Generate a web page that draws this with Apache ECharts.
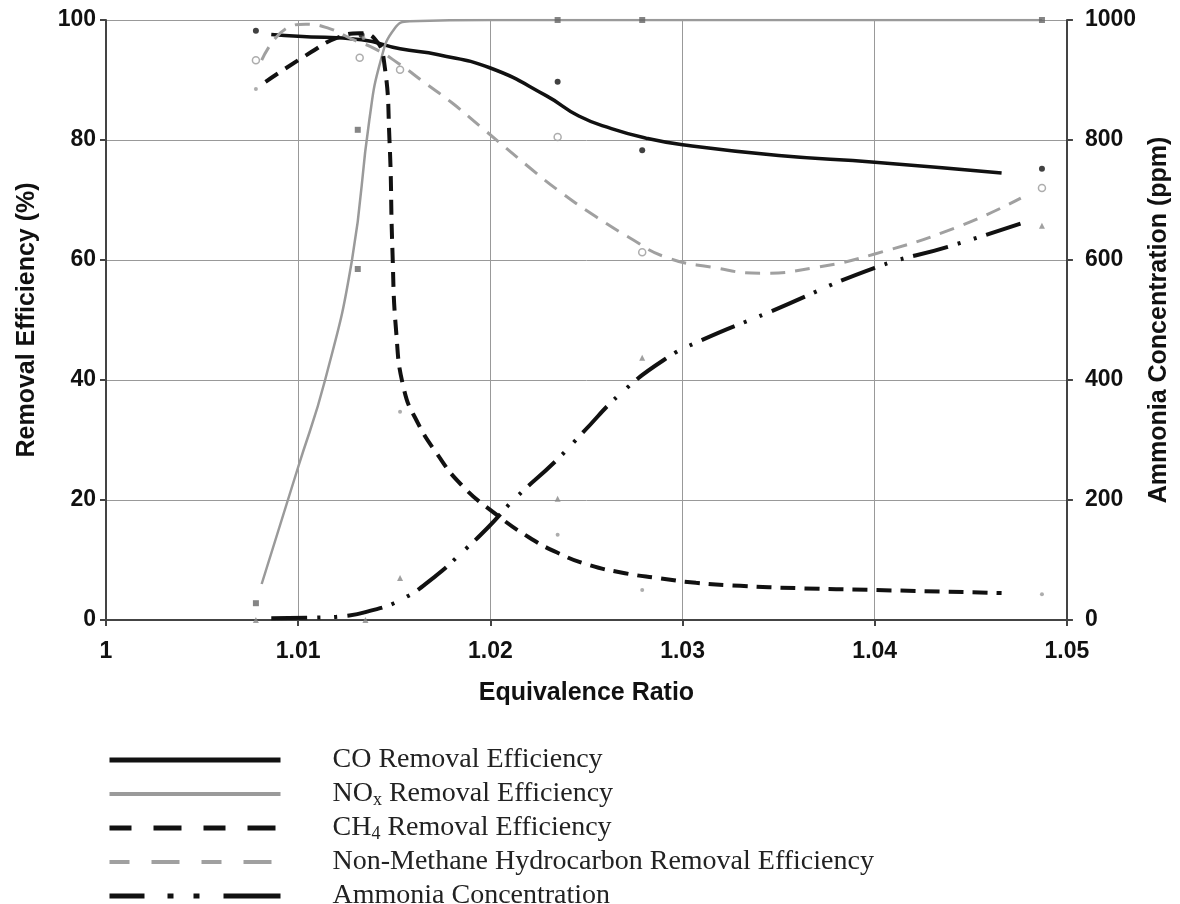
<!DOCTYPE html>
<html>
<head>
<meta charset="utf-8">
<script src="https://cdn.jsdelivr.net/npm/echarts@6/dist/echarts.min.js"></script>
<style>
  html, body { margin: 0; padding: 0; background: #fff; }
  #chart { width: 1180px; height: 904px; }
</style>
</head>
<body>
<div id="chart"></div>
<script>
// fitted curves, [equivalence ratio, value]
var coCurve = [[1.0086, 97.6], [1.0100, 97.3], [1.0133, 96.7], [1.0153, 95.2], [1.0173, 94.2], [1.0200, 92.0],
  [1.0229, 87.4], [1.0246, 84.0], [1.0263, 81.9], [1.0281, 80.3], [1.0300, 79.2], [1.0350, 77.4], [1.0400, 76.3], [1.0466, 74.5]];
var noxCurve = [[1.0081, 6.0], [1.0100, 25.5], [1.0114, 40], [1.0128, 60], [1.0137, 83.3],
  [1.0143, 93.3], [1.0150, 98.5], [1.0158, 99.8], [1.0200, 100], [1.0300, 100], [1.0400, 100], [1.0487, 100]];
var ch4Curve = [[1.0083, 89.7], [1.0107, 94.7], [1.0120, 97.0], [1.0132, 97.8], [1.0140, 96.8], [1.01447, 93.0],
  [1.01475, 80], [1.01490, 62], [1.01510, 48], [1.0155, 38.5], [1.0162, 33.0], [1.0172, 27.8], [1.0185, 22.5],
  [1.0203, 17.6], [1.0220, 13.8], [1.0235, 11.2], [1.0251, 9.2], [1.0270, 7.8], [1.0287, 7.0], [1.0307, 6.2],
  [1.0330, 5.7], [1.0360, 5.3], [1.0400, 5.0], [1.0466, 4.5]];
var nmhcCurve = [[1.0081, 93.3], [1.0095, 98.8], [1.0104, 99.3], [1.0116, 98.6], [1.0128, 96.8], [1.0140, 95.2],
  [1.0152, 92.8], [1.0166, 89.5], [1.0180, 86.2], [1.0195, 82.2], [1.0220, 75.5], [1.0237, 71.2], [1.0255, 67.2],
  [1.0272, 63.8], [1.0291, 60.5], [1.0315, 58.8], [1.0341, 57.8], [1.0370, 58.8], [1.0400, 61.0], [1.0443, 65.5], [1.0476, 70.3]];
var ammoniaCurve = [[1.0086, 3], [1.0110, 4], [1.0125, 7], [1.0135, 13], [1.0153, 33], [1.0171, 72], [1.0185, 112],
  [1.0199, 155], [1.0213, 203], [1.0234, 265], [1.0248, 312], [1.0268, 378], [1.0291, 435], [1.0309, 465],
  [1.0345, 513], [1.0400, 587], [1.0438, 622], [1.0477, 662]];

// measured points
var coPts = [[1.0078, 98.2], [1.0133, 97.5], [1.0235, 89.7], [1.0279, 78.3], [1.0487, 75.2]];
var noxPts = [[1.0078, 2.8], [1.0131, 81.7], [1.0131, 58.5], [1.0235, 100], [1.0279, 100], [1.0487, 100]];
var ch4Pts = [[1.0078, 88.5], [1.0134, 97.0], [1.0153, 34.7], [1.0235, 14.2], [1.0279, 5.0], [1.0487, 4.3]];
var nmhcPts = [[1.0078, 93.3], [1.0132, 93.7], [1.0153, 91.7], [1.0235, 80.5], [1.0279, 61.3], [1.0487, 72.0]];
var ammoniaPts = [[1.0078, 0], [1.0135, 0], [1.0153, 70], [1.0235, 202], [1.0279, 437], [1.0487, 657]];

var legendNames = ['CO Removal Efficiency', 'NOx Removal Efficiency', 'CH4 Removal Efficiency',
  'Non-Methane Hydrocarbon Removal Efficiency', 'Ammonia Concentration'];
var legendLabels = {
  'CO Removal Efficiency': 'CO Removal Efficiency',
  'NOx Removal Efficiency': 'NO{sub|x} Removal Efficiency',
  'CH4 Removal Efficiency': 'CH{sub|4} Removal Efficiency',
  'Non-Methane Hydrocarbon Removal Efficiency': 'Non-Methane Hydrocarbon Removal Efficiency',
  'Ammonia Concentration': 'Ammonia Concentration'
};

var sans = 'Liberation Sans';
var serif = 'Liberation Serif';
var axisText = {fontFamily: sans, fontWeight: 'bold', fontSize: 23, color: '#111'};
var nameText = {fontFamily: sans, fontWeight: 'bold', fontSize: 25, color: '#111'};

var chart = echarts.init(document.getElementById('chart'));

function curve(name, data, color, width, type, yIdx) {
  return {
    name: name, type: 'line', data: data, yAxisIndex: yIdx || 0,
    smooth: 0.5, symbol: 'none', silent: true,
    lineStyle: {color: color, width: width, type: type, cap: 'butt'},
    itemStyle: {color: color}
  };
}
function points(name, data, symbol, color, size, yIdx, empty) {
  return {
    name: name, type: 'scatter', data: data, yAxisIndex: yIdx || 0,
    symbol: symbol, symbolSize: size, silent: true, z: 3,
    itemStyle: empty ? {color: '#fff', borderColor: color, borderWidth: 1.5} : {color: color}
  };
}

chart.setOption({
  animation: false,
  grid: {left: 106, right: 113, top: 20, bottom: 284},
  legend: {
    data: [
      {name: legendNames[0], lineStyle: {width: 5}},
      {name: legendNames[1], lineStyle: {width: 4}},
      {name: legendNames[2], lineStyle: {width: 5, type: [22, 22, 28, 22]}},
      {name: legendNames[3], lineStyle: {width: 4, type: [20, 22, 28, 22]}},
      {name: legendNames[4], lineStyle: {width: 5, type: [35, 23, 6, 20, 6, 24, 60]}}
    ],
    orient: 'vertical',
    left: 107,
    top: 745,
    height: 200,
    padding: 0,
    itemWidth: 171,
    itemHeight: 14,
    itemGap: 4,
    selectedMode: false,
    itemStyle: {opacity: 0},
    formatter: function (name) { return legendLabels[name]; },
    textStyle: {
      fontFamily: serif, fontSize: 28, color: '#222', lineHeight: 30, padding: [0, 0, 0, 47],
      rich: {sub: {fontFamily: serif, fontSize: 18, color: '#222', verticalAlign: 'bottom'}}
    }
  },
  xAxis: {
    type: 'value', min: 1, max: 1.05, interval: 0.01,
    name: 'Equivalence Ratio', nameLocation: 'middle', nameGap: 61, nameTextStyle: nameText,
    axisLine: {show: true, lineStyle: {color: '#444', width: 2}},
    axisTick: {show: true, length: 6, lineStyle: {color: '#444', width: 2}},
    axisLabel: Object.assign({margin: 20, formatter: function (v) { return String(+v.toFixed(2)); }}, axisText),
    splitLine: {show: true, lineStyle: {color: '#999', width: 1}}
  },
  yAxis: [{
    type: 'value', min: 0, max: 100, interval: 20,
    name: 'Removal Efficiency (%)', nameLocation: 'middle', nameGap: 66, nameTextStyle: nameText,
    axisLine: {show: true, lineStyle: {color: '#444', width: 2}},
    axisTick: {show: true, length: 6, lineStyle: {color: '#444', width: 2}},
    axisLabel: Object.assign({margin: 10}, axisText),
    splitLine: {show: true, lineStyle: {color: '#999', width: 1}}
  }, {
    type: 'value', min: 0, max: 1000, interval: 200, position: 'right',
    name: 'Ammonia Concentration (ppm)', nameLocation: 'middle', nameGap: 80, nameTextStyle: nameText,
    axisLine: {show: true, lineStyle: {color: '#444', width: 2}},
    axisTick: {show: true, length: 6, lineStyle: {color: '#444', width: 2}},
    axisLabel: Object.assign({margin: 18, formatter: function (v) { return String(v); }}, axisText),
    splitLine: {show: false}
  }],
  series: [
    curve('CO Removal Efficiency', coCurve, '#111', 3.5, 'solid'),
    curve('NOx Removal Efficiency', noxCurve, '#9a9a9a', 2.5, 'solid'),
    curve('CH4 Removal Efficiency', ch4Curve, '#111', 4, [15, 9]),
    curve('Non-Methane Hydrocarbon Removal Efficiency', nmhcCurve, '#a0a0a0', 3, [15, 10]),
    curve('Ammonia Concentration', ammoniaCurve, '#111', 4, [36, 10, 3, 14, 3, 10], 1),
    points('CO data', coPts, 'circle', '#111', 6),
    points('NOx data', noxPts, 'rect', '#666', 6),
    points('CH4 data', ch4Pts, 'circle', '#999', 4),
    points('NMHC data', nmhcPts, 'circle', '#999', 7, 0, true),
    points('Ammonia data', ammoniaPts, 'triangle', '#888', 6, 1)
  ]
});
</script>
</body>
</html>
